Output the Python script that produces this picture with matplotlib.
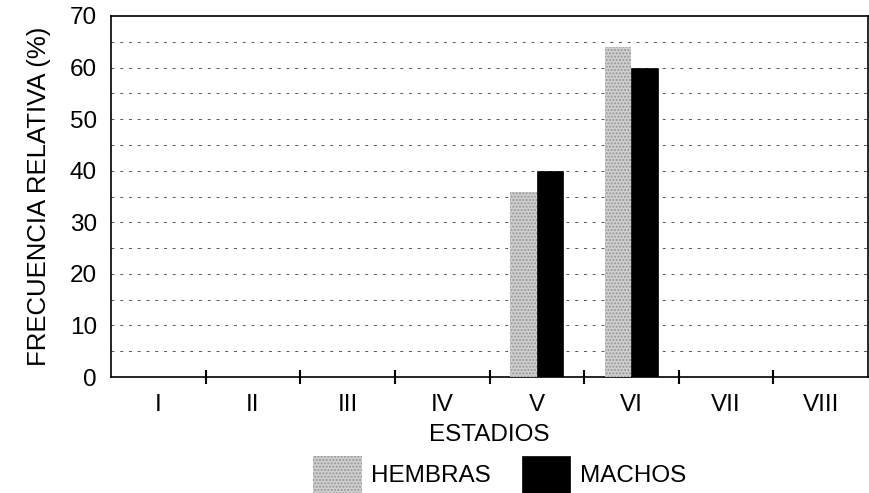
import matplotlib
matplotlib.use("Agg")
import matplotlib.pyplot as plt
import numpy as np
from matplotlib.patches import Patch

categories = ["I", "II", "III", "IV", "V", "VI", "VII", "VIII"]
hembras = [0, 0, 0, 0, 35.8, 64.0, 0, 0]
machos = [0, 0, 0, 0, 40, 60, 0, 0]
yticks = [0, 10, 20, 30, 40, 50, 60, 70]

plt.rcParams['font.family'] = ['Liberation Sans', 'DejaVu Sans']
plt.rcParams['hatch.linewidth'] = 1.0

FS = 17.5
fig = plt.figure(figsize=(8.69, 4.93), dpi=100)
ax = fig.add_axes([111/869, 1-377/493, (868-111)/869, (377-16)/493])

x = np.arange(len(categories))
w = 0.28
hkw = dict(facecolor='#d0d0d0', edgecolor='#959595', hatch='.....', linewidth=0)
mkw = dict(facecolor='black', edgecolor='black', linewidth=0.5)
ax.bar(x - w/2, hembras, w, **hkw, zorder=3)
ax.bar(x + w/2, machos, w, **mkw, zorder=3)

ax.set_xlim(-0.5, len(categories) - 0.5)
ax.set_ylim(0, 70)
for yv in np.arange(5, 70, 5):
    ax.axhline(yv, color='#555555', linewidth=0.7, linestyle=(0, (3, 6)), zorder=1)

ax.set_yticks(yticks)
ax.set_yticklabels([str(v) for v in yticks], fontsize=FS)
ax.tick_params(axis='y', length=0, pad=10)

ax.set_xticks(x)
ax.set_xticklabels(categories, fontsize=FS)
ax.tick_params(axis='x', which='major', length=0, pad=12)
ax.set_xticks(np.arange(0.5, len(categories) - 1, 1), minor=True)
ax.tick_params(axis='x', which='minor', direction='inout', length=10, width=1.5)

for s in ax.spines.values():
    s.set_linewidth(1.2)

ax.set_ylabel("FRECUENCIA RELATIVA (%)", fontsize=18.5, labelpad=14)
ax.set_xlabel("ESTADIOS", fontsize=FS, labelpad=6)

handles = [Patch(**hkw, label="HEMBRAS"), Patch(**mkw, label="MACHOS")]
fig.legend(handles=handles, loc='lower center', bbox_to_anchor=(0.575, -0.045),
           ncol=2, frameon=False, fontsize=FS, handlelength=2.0, handleheight=2.0,
           columnspacing=1.26, handletextpad=0.4)

fig.savefig("out.png", dpi=100)
